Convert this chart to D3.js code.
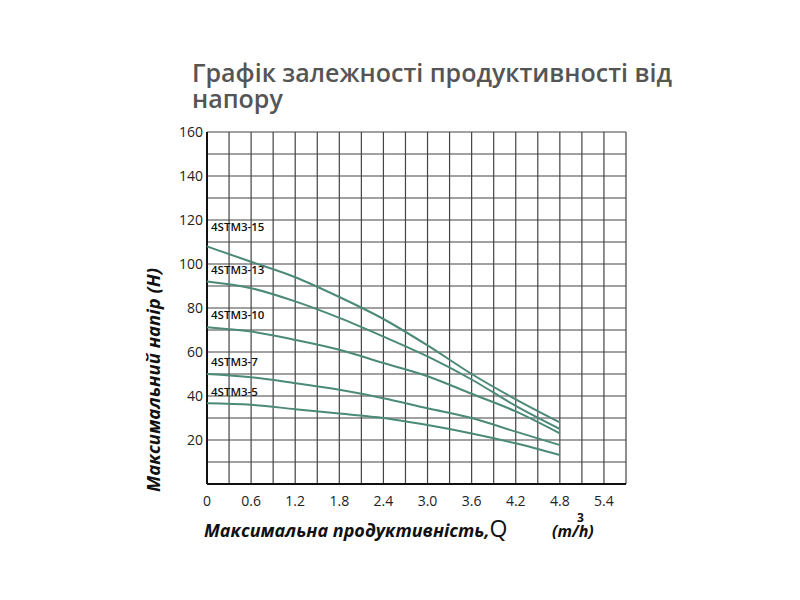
<!DOCTYPE html>
<html><head><meta charset="utf-8">
<script src="https://cdn.jsdelivr.net/npm/d3@7"></script>
<style>body{margin:0;background:#fff}</style>
</head><body>
<svg id="c" width="800" height="600"></svg>
<script>
const flows = [0, 0.6, 1.2, 1.8, 2.4, 3.0, 3.6, 4.2, 4.8]
const models = ['4STM3-15', '4STM3-13', '4STM3-10', '4STM3-7', '4STM3-5']
const heads = [
  [108, 101, 94, 85, 75, 63, 50, 38.5, 28],
  [92, 89, 83, 75.5, 67, 58, 47.5, 35.5, 25],
  [71.3, 69.3, 65.5, 61, 55, 49, 41, 33, 23],
  [50, 48.5, 45.8, 42.8, 39, 34.4, 30, 23.8, 17.7],
  [36.7, 36, 34, 32, 30, 26.8, 23, 18.5, 13.2]
]
const labelY = [115, 95.5, 75, 53.5, 40]
const xTicks = [0, 0.6, 1.2, 1.8, 2.4, 3.0, 3.6, 4.2, 4.8, 5.4]
const yTicks = [20, 40, 60, 80, 100, 120, 140, 160]

const svg = d3.select('#c')
const x = d3.scaleLinear().domain([0, 5.7]).range([207, 626])
const y = d3.scaleLinear().domain([0, 160]).range([484, 132])

const grid = svg.append('g').attr('stroke', '#444').attr('stroke-width', 1.2)
grid.selectAll('line.v').data(d3.range(1, 20).map(i => i * 0.3)).join('line')
  .attr('x1', d => x(d)).attr('x2', d => x(d)).attr('y1', y(160)).attr('y2', y(0))
grid.selectAll('line.h').data(d3.range(1, 17).map(i => i * 10)).join('line')
  .attr('x1', x(0)).attr('x2', x(5.7)).attr('y1', d => y(d)).attr('y2', d => y(d))
svg.append('line').attr('x1', x(0)).attr('x2', x(0)).attr('y1', y(160)).attr('y2', y(0)).attr('stroke', '#111').attr('stroke-width', 2)
svg.append('line').attr('x1', x(0)).attr('x2', x(5.7)).attr('y1', y(0)).attr('y2', y(0)).attr('stroke', '#111').attr('stroke-width', 2)

const font = 'Open Sans, sans-serif'
svg.selectAll('text.yt').data(yTicks).join('text')
  .attr('x', 203).attr('y', d => y(d) + 5).attr('text-anchor', 'end')
  .attr('font-family', font).attr('font-size', 14).attr('fill', '#222').text(d => d)
svg.selectAll('text.xt').data(xTicks).join('text')
  .attr('x', d => x(d)).attr('y', 506).attr('text-anchor', 'middle')
  .attr('font-family', font).attr('font-size', 14).attr('fill', '#222').text(d => d === 0 ? '0' : d.toFixed(1))

const line = d3.line().x((d, i) => x(flows[i])).y(d => y(d)).curve(d3.curveMonotoneX)
svg.selectAll('path.c').data(heads).join('path')
  .attr('d', line).attr('fill', 'none').attr('stroke', '#4b8a78').attr('stroke-width', 2)
svg.selectAll('text.lb').data(models).join('text')
  .attr('x', 211).attr('y', (d, i) => y(labelY[i]))
  .attr('font-family', font).attr('font-size', 11.5).attr('font-weight', 600).attr('fill', '#111').text(d => d)

svg.append('text').attr('x', 192).attr('y', 82).attr('font-family', font).attr('font-size', 25)
  .attr('font-weight', 600).attr('fill', '#555').text('Графік залежності продуктивності від')
svg.append('text').attr('x', 192).attr('y', 108).attr('font-family', font).attr('font-size', 25)
  .attr('font-weight', 600).attr('fill', '#555').text('напору')

svg.append('text').attr('transform', 'translate(160,380) rotate(-90)').attr('text-anchor', 'middle')
  .attr('font-family', font).attr('font-size', 18.5).attr('font-weight', 700).attr('font-style', 'italic')
  .attr('fill', '#111').text('Максимальний напір (H)')

const xt = svg.append('text').attr('x', 204).attr('y', 537).attr('font-family', font)
  .attr('font-weight', 700).attr('font-style', 'italic').attr('fill', '#111')
xt.append('tspan').attr('font-size', 18).text('Максимальна продуктивність,')
xt.append('tspan').attr('font-size', 23).attr('font-style', 'normal').attr('font-weight', 400).text('Q')
svg.append('text').attr('x', 552).attr('y', 537).attr('font-family', font).attr('font-size', 16)
  .attr('font-weight', 700).attr('font-style', 'italic').attr('fill', '#111').text('(m/h)')
svg.append('text').attr('x', 577).attr('y', 522).attr('font-family', font).attr('font-size', 12)
  .attr('font-weight', 700).attr('fill', '#111').text('3')
</script>
</body></html>
